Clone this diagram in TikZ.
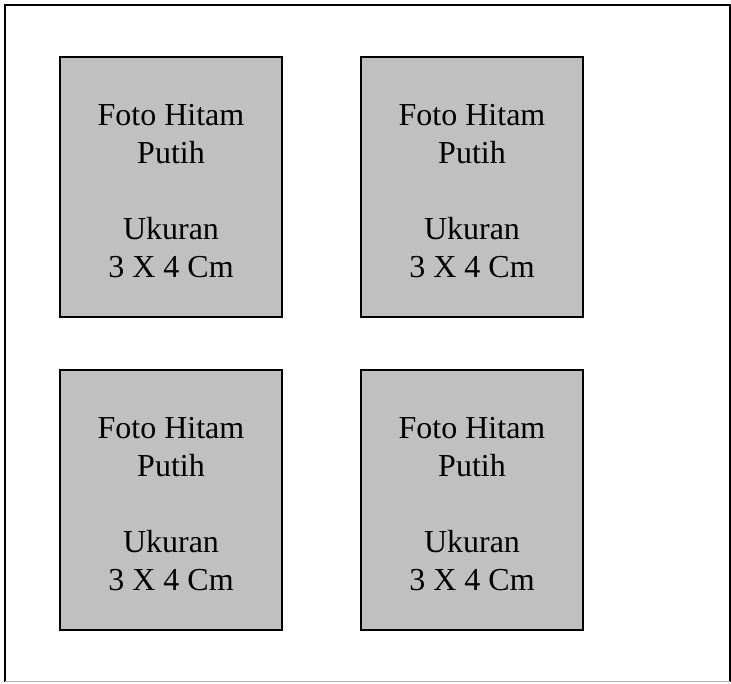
\documentclass[tikz,border=0pt]{standalone}
\usepackage{fontspec}
\setmainfont{Liberation Serif}
\begin{document}
\begin{tikzpicture}[x=1pt,y=-1pt,
  photo/.style={draw=black,line width=2pt,fill={rgb,255:red,192;green,192;blue,192},
    minimum width=222pt,minimum height=260pt,inner sep=0pt},
  phototext/.style={inner sep=0pt,align=center,yshift=-4.5pt,
    font=\fontsize{32}{38}\selectfont}]
\useasboundingbox (0,0) rectangle (731,683);
\fill[white] (0,0) rectangle (731,683);
\draw[line width=2pt] (5,682) -- (5,5) -- (729.5,5) -- (729.5,682);
\draw[line width=1pt,gray!60] (5,681.5) -- (729.5,681.5);
\node[photo] (p1) at (171,187) {};
\node[photo] (p2) at (472,187) {};
\node[photo] (p3) at (171,500) {};
\node[photo] (p4) at (472,500) {};
\node[phototext] (t1) at (p1.center) {Foto Hitam\\Putih\\[38pt]Ukuran\\3 X 4 Cm};
\node[phototext] (t2) at (p2.center) {Foto Hitam\\Putih\\[38pt]Ukuran\\3 X 4 Cm};
\node[phototext] (t3) at (p3.center) {Foto Hitam\\Putih\\[38pt]Ukuran\\3 X 4 Cm};
\node[phototext] (t4) at (p4.center) {Foto Hitam\\Putih\\[38pt]Ukuran\\3 X 4 Cm};
\end{tikzpicture}
\end{document}
